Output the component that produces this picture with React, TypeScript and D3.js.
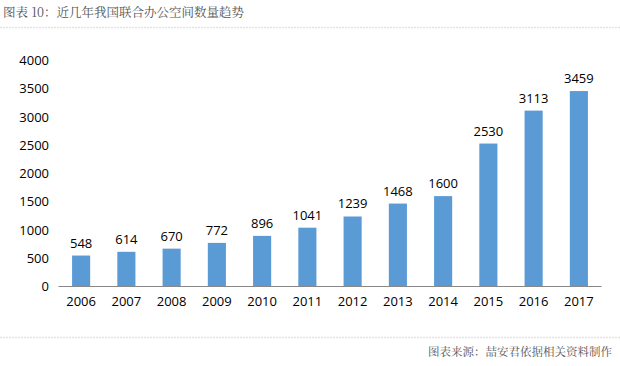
import React from "react";
import * as d3 from "d3";

const years = ["2006","2007","2008","2009","2010","2011","2012","2013","2014","2015","2016","2017"];
const counts = [548, 614, 670, 772, 896, 1041, 1239, 1468, 1600, 2530, 3113, 3459];
const yTicks = [0, 500, 1000, 1500, 2000, 2500, 3000, 3500, 4000];
const title = "图表 10：近几年我国联合办公空间数量趋势";
const source = "图表来源：喆安君依据相关资料制作";

export default function App() {
  const W = 620, H = 366;
  const x = d3.scaleBand<string>().domain(years).range([58.5, 601.5]).paddingInner(0.6).paddingOuter(0.3);
  const y = d3.scaleLinear().domain([0, 4000]).range([286.5, 60.5]);
  const font = "'Open Sans', 'Noto Sans', sans-serif";
  const serif = "'Noto Serif CJK SC', 'Noto Sans CJK SC', serif";
  return (
    <svg width={W} height={H} style={{ position: "absolute", left: 0, top: 0, background: "#fff" }}>
      <text x={3} y={17} fontSize={12.5} fill="#555" fontFamily={serif}>{title}</text>
      <line x1={0} x2={620} y1={27.5} y2={27.5} stroke="#e3e3e3" strokeWidth={1.5} strokeDasharray="2 1" />
      {yTicks.map((t) => (
        <text key={t} x={49} y={y(t)} dy="0.35em" textAnchor="end" fontSize={13} fill="#000" fontFamily={font}>{t}</text>
      ))}
      {years.map((yr, i) => (
        <g key={yr}>
          <rect x={x(yr)} y={y(counts[i])} width={x.bandwidth()} height={y(0) - y(counts[i])} fill="#5B9BD5" />
          <text x={(x(yr) as number) + x.bandwidth() / 2} y={y(counts[i]) - 8} textAnchor="middle" fontSize={13} fill="#000" fontFamily={font}>{counts[i]}</text>
          <text x={(x(yr) as number) + x.bandwidth() / 2} y={306} textAnchor="middle" fontSize={13} fill="#000" fontFamily={font}>{yr}</text>
        </g>
      ))}
      <line x1={58.5} x2={601.5} y1={y(0)} y2={y(0)} stroke="#888" strokeWidth={1} />
      <line x1={0} x2={620} y1={337.5} y2={337.5} stroke="#e3e3e3" strokeWidth={1.5} strokeDasharray="2 1" />
      <text x={612} y={356} textAnchor="end" fontSize={11.5} fill="#555" fontFamily={serif}>{source}</text>
    </svg>
  );
}
